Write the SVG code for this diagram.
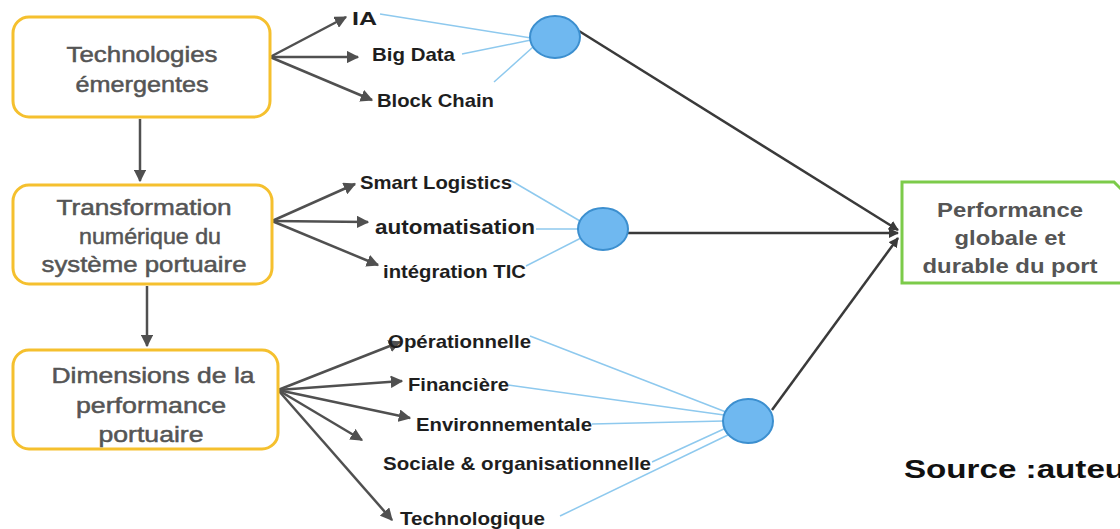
<svg xmlns="http://www.w3.org/2000/svg" width="1120" height="529" viewBox="0 0 1120 529">
  <style>
    .box { fill: #ffffff; stroke: #f5c02e; stroke-width: 3; }
    .goal { fill: #ffffff; stroke: #7ccb4a; stroke-width: 3; }
    .node-label { font-family: "Liberation Sans", Arial, sans-serif; font-size: 22px; fill: #555555; stroke: #555555; stroke-width: 0.5; text-anchor: middle; }
    .goal-label { font-family: "Liberation Sans", Arial, sans-serif; font-size: 21px; font-weight: bold; fill: #555555; text-anchor: middle; }
    .item { font-family: "Liberation Sans", Arial, sans-serif; font-size: 18.5px; font-weight: bold; fill: #1e1e1e; }
    .arrow { stroke: #505050; stroke-width: 2.5; fill: none; marker-end: url(#head); }
    .link { stroke: #8ec9ee; stroke-width: 1.5; fill: none; }
    .main { stroke: #3a3a3a; stroke-width: 2.5; fill: none; }
    .hub { fill: #6fb8f0; stroke: #3c8fcf; stroke-width: 2; }
    .source { font-family: "Liberation Sans", Arial, sans-serif; font-size: 25px; font-weight: bold; fill: #111111; }
  </style>
  <defs>
    <marker id="head" viewBox="0 0 10 10" refX="9" refY="5" markerWidth="5" markerHeight="5" orient="auto" markerUnits="strokeWidth">
      <path d="M0,0 L10,5 L0,10 z" fill="#505050"/>
    </marker>
    <marker id="headDark" viewBox="0 0 10 10" refX="9" refY="5" markerWidth="4" markerHeight="4" orient="auto" markerUnits="strokeWidth">
      <path d="M0,0 L10,5 L0,10 z" fill="#3a3a3a"/>
    </marker>
  </defs>

  <rect width="1120" height="529" fill="#ffffff"/>

  <!-- connectors -->
  <g id="connectors">
    <!-- vertical flow between boxes -->
    <line class="arrow" x1="140" y1="119" x2="140" y2="181"/>
    <line class="arrow" x1="147" y1="286" x2="147" y2="346"/>

    <!-- Technologies émergentes fan-out -->
    <line class="arrow" x1="270" y1="57" x2="346" y2="17"/>
    <line class="arrow" x1="270" y1="57" x2="358" y2="57"/>
    <line class="arrow" x1="270" y1="57" x2="372" y2="100"/>

    <!-- Transformation fan-out -->
    <line class="arrow" x1="272" y1="221" x2="355" y2="184"/>
    <line class="arrow" x1="272" y1="221" x2="368" y2="222"/>
    <line class="arrow" x1="272" y1="221" x2="378" y2="265"/>

    <!-- Dimensions fan-out -->
    <line class="arrow" x1="278" y1="390" x2="400" y2="342"/>
    <line class="arrow" x1="278" y1="390" x2="402" y2="381"/>
    <line class="arrow" x1="278" y1="390" x2="410" y2="418"/>
    <line class="arrow" x1="278" y1="390" x2="362" y2="440"/>
    <line class="arrow" x1="278" y1="390" x2="392" y2="520"/>

    <!-- light links into hubs -->
    <line class="link" x1="380" y1="14" x2="531" y2="38"/>
    <line class="link" x1="462" y1="54" x2="531" y2="40"/>
    <line class="link" x1="494" y1="82" x2="533" y2="47"/>

    <line class="link" x1="510" y1="180" x2="580" y2="221"/>
    <line class="link" x1="536" y1="229" x2="578" y2="229"/>
    <line class="link" x1="526" y1="266" x2="581" y2="238"/>

    <line class="link" x1="530" y1="336" x2="726" y2="412"/>
    <line class="link" x1="508" y1="385" x2="724" y2="415"/>
    <line class="link" x1="592" y1="424" x2="724" y2="421"/>
    <line class="link" x1="652" y1="462" x2="726" y2="428"/>
    <line class="link" x1="560" y1="516" x2="730" y2="434"/>

    <!-- hubs into overall performance -->
    <line class="main" x1="579" y1="31" x2="898" y2="230" marker-end="url(#headDark)"/>
    <line class="main" x1="628" y1="233" x2="898" y2="233" marker-end="url(#headDark)"/>
    <line class="main" x1="772" y1="410" x2="898" y2="238" marker-end="url(#headDark)"/>
  </g>

  <!-- hubs -->
  <g id="hub-tech"><ellipse class="hub" cx="555" cy="37" rx="25" ry="21"/></g>
  <g id="hub-transfo"><ellipse class="hub" cx="603" cy="229" rx="25" ry="21"/></g>
  <g id="hub-dimensions"><ellipse class="hub" cx="748" cy="421" rx="25" ry="22"/></g>

  <!-- main boxes -->
  <g id="technologies">
    <rect class="box" x="13" y="17" width="257" height="100" rx="16"/>
    <text class="node-label" x="142" y="62" textLength="151" lengthAdjust="spacingAndGlyphs">Technologies</text>
    <text class="node-label" x="142" y="92" textLength="133" lengthAdjust="spacingAndGlyphs">émergentes</text>
  </g>
  <g id="transformation">
    <rect class="box" x="13" y="185" width="259" height="99" rx="16"/>
    <text class="node-label" x="144" y="215" textLength="175" lengthAdjust="spacingAndGlyphs">Transformation</text>
    <text class="node-label" x="150" y="244" textLength="142" lengthAdjust="spacingAndGlyphs">numérique du</text>
    <text class="node-label" x="144" y="272" textLength="205" lengthAdjust="spacingAndGlyphs">système portuaire</text>
  </g>
  <g id="dimensions">
    <rect class="box" x="13" y="350" width="265" height="99" rx="16"/>
    <text class="node-label" x="153" y="383" textLength="203" lengthAdjust="spacingAndGlyphs">Dimensions de la</text>
    <text class="node-label" x="151" y="413" textLength="150" lengthAdjust="spacingAndGlyphs">performance</text>
    <text class="node-label" x="151" y="442" textLength="105" lengthAdjust="spacingAndGlyphs">portuaire</text>
  </g>
  <g id="performance">
    <path class="goal" d="M902,182 L1114,182 L1132,200 L1132,283 L902,283 Z"/>
    <text class="goal-label" x="1010" y="217" textLength="146" lengthAdjust="spacingAndGlyphs">Performance</text>
    <text class="goal-label" x="1010" y="245" textLength="111" lengthAdjust="spacingAndGlyphs">globale et</text>
    <text class="goal-label" x="1010" y="273" textLength="175" lengthAdjust="spacingAndGlyphs">durable du port</text>
  </g>

  <!-- items -->
  <g id="items-tech">
    <text class="item" x="352" y="25" textLength="25" lengthAdjust="spacingAndGlyphs">IA</text>
    <text class="item" x="372" y="61" textLength="83" lengthAdjust="spacingAndGlyphs">Big Data</text>
    <text class="item" x="377" y="107" textLength="117" lengthAdjust="spacingAndGlyphs">Block Chain</text>
  </g>
  <g id="items-transfo">
    <text class="item" x="360" y="189" textLength="152" lengthAdjust="spacingAndGlyphs">Smart Logistics</text>
    <text class="item" x="375" y="234" textLength="160" lengthAdjust="spacingAndGlyphs" style="font-size:20px">automatisation</text>
    <text class="item" x="383" y="278" textLength="143" lengthAdjust="spacingAndGlyphs">intégration TIC</text>
  </g>
  <g id="items-dimensions">
    <text class="item" x="388" y="348" textLength="143" lengthAdjust="spacingAndGlyphs">Opérationnelle</text>
    <text class="item" x="408" y="391" textLength="101" lengthAdjust="spacingAndGlyphs">Financière</text>
    <text class="item" x="416" y="431" textLength="176" lengthAdjust="spacingAndGlyphs">Environnementale</text>
    <text class="item" x="383" y="470" textLength="268" lengthAdjust="spacingAndGlyphs">Sociale &amp; organisationnelle</text>
    <text class="item" x="400" y="525" textLength="145" lengthAdjust="spacingAndGlyphs">Technologique</text>
  </g>

  <text class="source" x="904" y="478" textLength="234" lengthAdjust="spacingAndGlyphs">Source :auteur</text>
</svg>
